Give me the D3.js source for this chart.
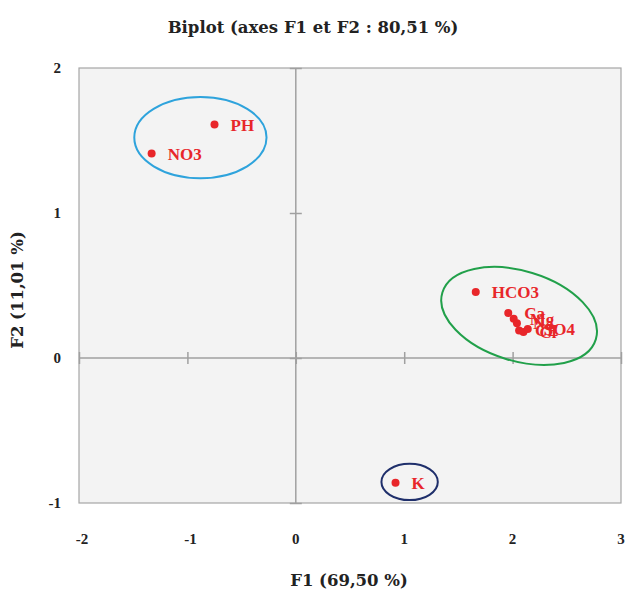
<!DOCTYPE html>
<html>
<head>
<meta charset="utf-8">
<script src="https://cdn.jsdelivr.net/npm/d3@7"></script>
<style>
  body { margin: 0; background: #fff; }
  text { font-family: "Liberation Serif", "DejaVu Serif", serif; font-weight: bold; }
  .ttl { font-family: "DejaVu Serif", serif; }
</style>
</head>
<body>
<script>
var width = 627,
    height = 592

// variables (F1, F2)
var names = ['PH', 'NO3', 'HCO3', 'Ca', 'Mg', 'Na', 'CE', 'Cl', 'SO4', 'K']
var f1 = [-0.75, -1.33, 1.66, 1.96, 2.01, 2.04, 2.06, 2.10, 2.14, 0.92]
var f2 = [1.61, 1.41, 0.455, 0.31, 0.27, 0.24, 0.19, 0.18, 0.20, -0.86]

var xTicks = [-2, -1, 0, 1, 2, 3]
var yTicks = [-1, 0, 1, 2]

// group ellipses: center (F1, F2), radii in axis units, rotation in degrees
var groupCx = [-0.88, 2.06, 1.05]
var groupCy = [1.52, 0.29, -0.855]
var groupRx = [0.61, 0.74, 0.26]
var groupRy = [0.28, 0.31, 0.125]
var groupRot = [0, 17, 0]
var groupColor = ['#2ea3dc', '#21a04a', '#1f2f6b']

var margin = {top: 68, right: 6, bottom: 89, left: 79}

var x = d3.scaleLinear().domain([-2, 3]).range([margin.left, width - margin.right])
var y = d3.scaleLinear().domain([-1, 2]).range([height - margin.bottom, margin.top])

var svg = d3.select('body').append('svg')
    .attr('width', width)
    .attr('height', height)

svg.append('rect')
    .attr('x', x(-2)).attr('y', y(2))
    .attr('width', x(3) - x(-2)).attr('height', y(-1) - y(2))
    .attr('fill', '#f3f3f3')
    .attr('stroke', '#a6a6a6')
    .attr('stroke-width', 1.2)

// zero axes with cross ticks
var yAxis = d3.axisLeft(y).tickValues(yTicks).tickSize(12).tickFormat('')
var xAxis = d3.axisBottom(x).tickValues(xTicks).tickSize(12).tickFormat('')

svg.append('g').attr('class', 'zax').attr('transform', 'translate(' + (x(0) + 6) + ',0)').call(yAxis)
svg.append('g').attr('class', 'zax').attr('transform', 'translate(0,' + (y(0) - 6) + ')').call(xAxis)
svg.selectAll('.zax .domain').remove()
svg.selectAll('.zax .tick line').attr('stroke', '#a0a0a0').attr('stroke-width', 1.5)

svg.append('line')
    .attr('x1', x(0)).attr('x2', x(0))
    .attr('y1', y(2)).attr('y2', y(-1))
    .attr('stroke', '#a0a0a0').attr('stroke-width', 1.5)
svg.append('line')
    .attr('x1', x(-2)).attr('x2', x(3))
    .attr('y1', y(0)).attr('y2', y(0))
    .attr('stroke', '#a0a0a0').attr('stroke-width', 1.5)

// tick labels
svg.selectAll('text.xt').data(xTicks).enter().append('text')
    .attr('class', 'xt')
    .attr('x', function(d) { return x(d) + (d < 0 ? 3 : 0) })
    .attr('y', y(-1) + 41)
    .attr('text-anchor', 'middle')
    .style('font-size', '15px')
    .attr('fill', '#222')
    .text(function(d) { return d })

svg.selectAll('text.yt').data(yTicks).enter().append('text')
    .attr('class', 'yt')
    .attr('x', 61)
    .attr('y', function(d) { return y(d) + 5 })
    .attr('text-anchor', 'end')
    .style('font-size', '15px')
    .attr('fill', '#222')
    .text(function(d) { return d })

// group ellipses
groupCx.forEach(function(cx, i) {
  svg.append('ellipse')
      .attr('cx', x(cx)).attr('cy', y(groupCy[i]))
      .attr('rx', x(groupRx[i]) - x(0))
      .attr('ry', y(0) - y(groupRy[i]))
      .attr('transform', 'rotate(' + groupRot[i] + ',' + x(cx) + ',' + y(groupCy[i]) + ')')
      .attr('fill', 'none')
      .attr('stroke', groupColor[i])
      .attr('stroke-width', 2)
})

// points and labels
var pts = names.map(function(n, i) { return {name: n, x: f1[i], y: f2[i]} })

svg.selectAll('circle.pt').data(pts).enter().append('circle')
    .attr('class', 'pt')
    .attr('cx', function(d) { return x(d.x) })
    .attr('cy', function(d) { return y(d.y) })
    .attr('r', 4)
    .attr('fill', '#e8262a')

svg.selectAll('text.lbl').data(pts).enter().append('text')
    .attr('class', 'lbl')
    .attr('x', function(d) { return x(d.x) + 16 })
    .attr('y', function(d) { return y(d.y) + 6 })
    .style('font-size', '17px')
    .attr('fill', '#e8262a')
    .text(function(d) { return d.name })

// titles
svg.append('text')
    .attr('class', 'ttl')
    .attr('x', 313).attr('y', 33)
    .attr('text-anchor', 'middle')
    .style('font-size', '16.5px')
    .attr('fill', '#222')
    .text('Biplot (axes F1 et F2 : 80,51 %)')

svg.append('text')
    .attr('class', 'ttl')
    .attr('x', 349).attr('y', 586)
    .attr('text-anchor', 'middle')
    .style('font-size', '16.5px')
    .attr('fill', '#222')
    .text('F1 (69,50 %)')

svg.append('text')
    .attr('class', 'ttl')
    .attr('transform', 'translate(23,' + 290 + ') rotate(-90)')
    .attr('text-anchor', 'middle')
    .style('font-size', '16.5px')
    .attr('fill', '#222')
    .text('F2 (11,01 %)')
</script>
</body>
</html>
